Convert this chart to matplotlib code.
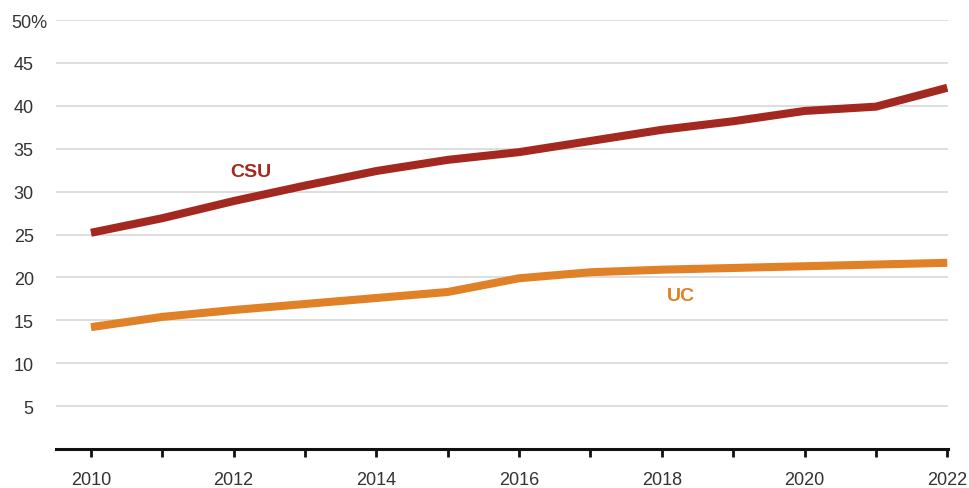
import matplotlib
matplotlib.use("Agg")
import matplotlib.pyplot as plt
import matplotlib.transforms as mtransforms

years = [2010, 2011, 2012, 2013, 2014, 2015, 2016, 2017, 2018, 2019, 2020, 2021, 2022]
csu = [25.2, 26.9, 28.9, 30.7, 32.4, 33.7, 34.6, 35.9, 37.2, 38.2, 39.4, 39.9, 42.1]
uc = [14.2, 15.4, 16.2, 16.9, 17.6, 18.3, 19.9, 20.6, 20.9, 21.1, 21.3, 21.5, 21.7]
yticks = [5, 10, 15, 20, 25, 30, 35, 40, 45, 50]
ytick_labels = ["5", "10", "15", "20", "25", "30", "35", "40", "45", "50%"]

csu_color = "#a3281f"
uc_color = "#e08127"
text_color = "#333333"

plt.rcParams["font.family"] = ["Liberation Sans", "DejaVu Sans"]

fig = plt.figure(figsize=(9.7, 4.89), dpi=100)
W, H = 970, 489
ax = fig.add_axes([56 / W, 1 - 450 / H, (948 - 56) / W, (450 - 21) / H])

ax.plot(years, uc, color=uc_color, lw=5.8, solid_capstyle="butt", zorder=3)
ax.plot(years, csu, color=csu_color, lw=5.8, solid_capstyle="butt", zorder=3)

ax.set_xlim(2009.51, 2022.01)
ax.set_ylim(0, 50)

ax.set_yticks(yticks)
ax.set_yticklabels(ytick_labels)
ax.set_xticks(years)
ax.set_xticklabels([str(y) if y % 2 == 0 else "" for y in years])

for y in yticks:
    ax.axhline(y, color="#d4d4d4", lw=1.1, zorder=1)

for s in ["top", "right", "left"]:
    ax.spines[s].set_visible(False)
ax.spines["bottom"].set_color("#111111")
ax.spines["bottom"].set_linewidth(2.2)
ax.spines["bottom"].set_zorder(4)

ax.tick_params(axis="y", length=0, pad=16, labelsize=13, labelcolor=text_color)
ax.tick_params(axis="x", length=6, width=2, color="#111111", pad=9.5,
               labelsize=13, labelcolor=text_color)

# let "%" hang to the right of the aligned numbers
for lbl in ax.get_yticklabels():
    if lbl.get_text().endswith("%"):
        lbl.set_transform(lbl.get_transform() + mtransforms.ScaledTranslation(14 / 100, 0, fig.dpi_scale_trans))

ax.text(2012.24, 31.78, "CSU", color=csu_color, fontsize=14, fontweight="bold",
        ha="center", va="baseline")
ax.text(2018.27, 17.37, "UC", color=uc_color, fontsize=14, fontweight="bold",
        ha="center", va="baseline")

fig.savefig("out.png", dpi=100)
